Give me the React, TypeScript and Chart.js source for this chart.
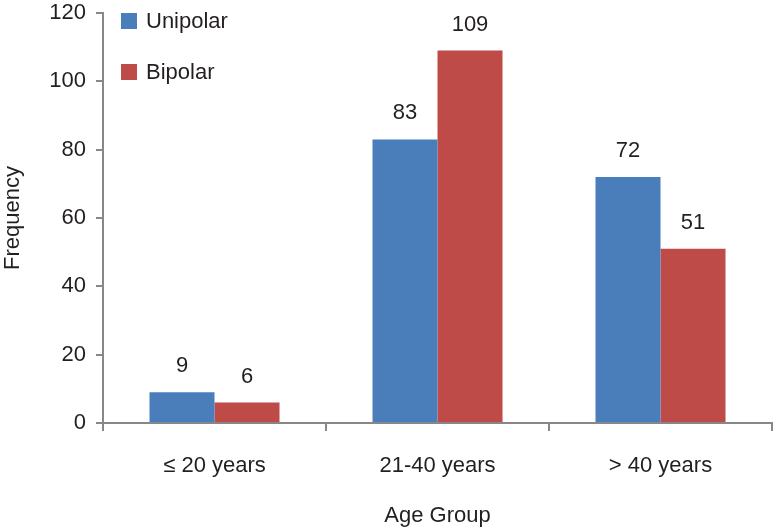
import React, { useEffect, useRef } from "react";
import { Chart, registerables } from "chart.js";

Chart.register(...registerables);

const categories = ["≤ 20 years", "21-40 years", "> 40 years"];
const unipolar = [9, 83, 72];
const bipolar = [6, 109, 51];
const seriesNames = ["Unipolar", "Bipolar"];
const yTickMax = 120;
const yTickStep = 20;

const FONT = "'Liberation Sans', Arial, Helvetica, sans-serif";
const TEXT = "#231f20";
const AXIS = "#878787";
const BLUE = "#4a7ebb";
const RED = "#be4b48";

const labelsPlugin = {
  id: "barLabels",
  afterDatasetsDraw(chart: any) {
    const ctx = chart.ctx;
    ctx.save();
    ctx.font = `22px ${FONT}`;
    ctx.fillStyle = TEXT;
    ctx.textAlign = "center";
    ctx.textBaseline = "alphabetic";
    chart.data.datasets.forEach((ds: any, di: number) => {
      const meta = chart.getDatasetMeta(di);
      meta.data.forEach((bar: any, i: number) => {
        ctx.fillText(String(ds.data[i]), bar.x, bar.y - 20);
      });
    });
    ctx.restore();
  },
};

const legendPlugin = {
  id: "customLegend",
  afterDraw(chart: any) {
    const ctx = chart.ctx;
    const area = chart.chartArea;
    ctx.save();
    ctx.font = `22px ${FONT}`;
    ctx.textBaseline = "middle";
    ctx.textAlign = "left";
    chart.data.datasets.forEach((ds: any, i: number) => {
      const y = area.top + 8 + i * 51;
      ctx.fillStyle = ds.backgroundColor;
      ctx.fillRect(area.left + 18, y - 8, 16, 16);
      ctx.fillStyle = TEXT;
      ctx.fillText(ds.label, area.left + 43, y + 1);
    });
    ctx.restore();
  },
};

export default function App() {
  const ref = useRef<HTMLCanvasElement | null>(null);

  useEffect(() => {
    document.body.style.margin = "0";
    const canvas = ref.current;
    if (!canvas) return;
    const chart = new Chart(canvas, {
      type: "bar",
      data: {
        labels: categories,
        datasets: [
          { label: seriesNames[0], data: unipolar, backgroundColor: BLUE },
          { label: seriesNames[1], data: bipolar, backgroundColor: RED },
        ],
      },
      options: {
        responsive: false,
        animation: false,
        layout: { padding: { top: 13, right: 4, left: 0, bottom: 0 } },
        datasets: {
          bar: { categoryPercentage: 0.583, barPercentage: 1 },
        },
        plugins: {
          legend: { display: false },
          tooltip: { enabled: false },
        },
        scales: {
          x: {
            offset: true,
            grid: {
              offset: true,
              drawOnChartArea: false,
              drawTicks: true,
              tickLength: 8,
              color: AXIS,
              lineWidth: 2,
            },
            border: { color: AXIS, width: 2 },
            ticks: {
              font: { family: FONT, size: 22 },
              color: TEXT,
              padding: 22,
            },
            title: {
              display: true,
              text: "Age Group",
              font: { family: FONT, size: 22 },
              color: TEXT,
              padding: { top: 0, bottom: -1 },
            },
            afterFit(scale: any) {
              scale.height = 105;
              scale.paddingLeft = 0;
              scale.paddingRight = 0;
            },
          },
          y: {
            min: 0,
            max: yTickMax,
            ticks: {
              stepSize: yTickStep,
              font: { family: FONT, size: 22 },
              color: TEXT,
              padding: 10,
            },
            grid: {
              drawOnChartArea: false,
              drawTicks: true,
              tickLength: 7,
              color: AXIS,
              lineWidth: 2,
            },
            border: { color: AXIS, width: 2 },
            title: {
              display: true,
              text: "Frequency",
              font: { family: FONT, size: 22 },
              color: TEXT,
              padding: 0,
            },
            afterFit(scale: any) {
              scale.width = 103;
              scale.paddingTop = 0;
              scale.paddingBottom = 0;
            },
          },
        },
      },
      plugins: [labelsPlugin, legendPlugin],
    });
    return () => chart.destroy();
  }, []);

  return <canvas ref={ref} width={776} height={528} style={{ display: "block" }} />;
}
